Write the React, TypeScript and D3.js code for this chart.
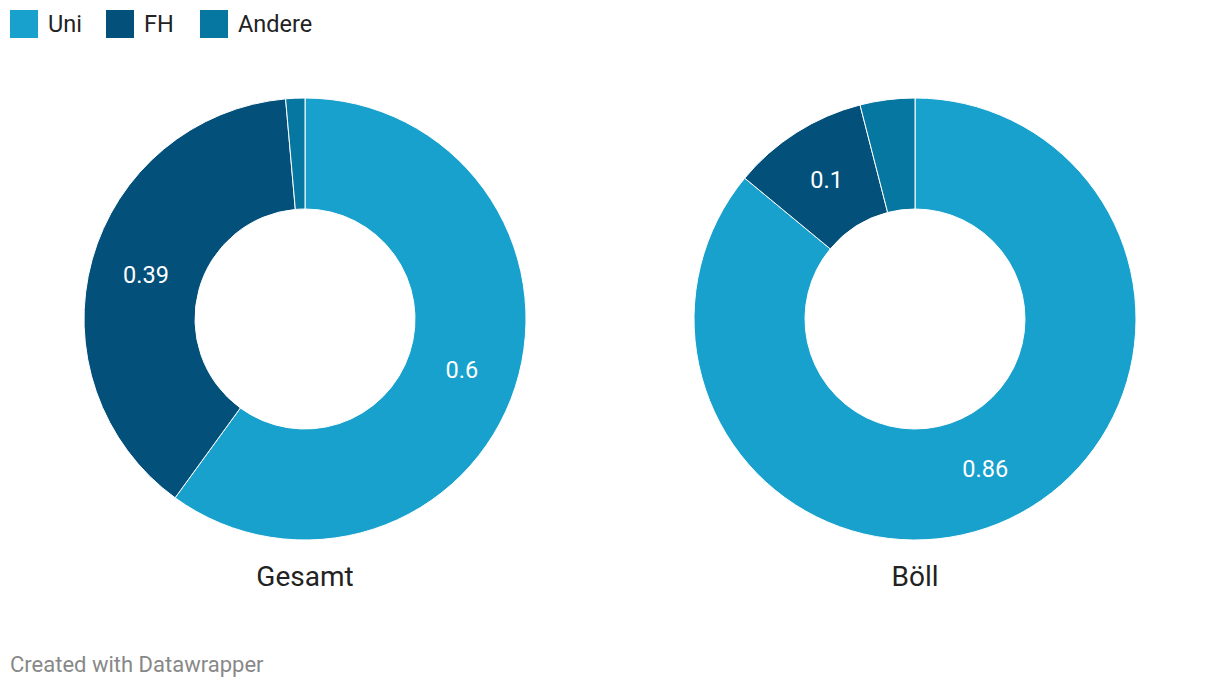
import React from "react";
import * as d3 from "d3";

const categories = ["Uni", "FH", "Andere"];
const colors = ["#18a1cd", "#03507b", "#0677a1"];
const charts = ["Gesamt", "Böll"];
const gesamtValues = [0.6, 0.386, 0.014];
const boellValues = [0.86, 0.1, 0.04];

const W = 1220;
const H = 688;
const outerR = 221;
const innerR = 110;
const centersX = [305, 915];
const centerY = 319;

export default function App() {
  const series = [gesamtValues, boellValues];
  const pie = d3.pie<number>().sort(null).value((d) => d);
  const arc = d3.arc<d3.PieArcDatum<number>>().innerRadius(innerR).outerRadius(outerR);
  const labelArc = d3.arc<d3.PieArcDatum<number>>().innerRadius(innerR + 55).outerRadius(innerR + 55);
  const fmt = d3.format(".2~f");
  const legendX = [10, 106, 200];
  return (
    <svg width={W} height={H} style={{ position: "absolute", left: 0, top: 0, fontFamily: "Roboto, sans-serif" }}>
      <rect width={W} height={H} fill="#fff" />
      {categories.map((c, i) => (
        <g key={c}>
          <rect x={legendX[i]} y={10} width={28} height={28} fill={colors[i]} />
          <text x={legendX[i] + 38} y={32} fontSize={23.5} fill="#222">{c}</text>
        </g>
      ))}
      {series.map((vals, si) => {
        const arcs = pie(vals);
        return (
          <g key={si} transform={`translate(${centersX[si]},${centerY})`}>
            {arcs.map((a, i) => (
              <path key={i} d={arc(a) || ""} fill={colors[i]} stroke="#fff" strokeWidth={1} />
            ))}
            {arcs.map((a, i) => {
              if (a.endAngle - a.startAngle < 0.3) return null;
              const [x, y] = labelArc.centroid(a);
              return (
                <text key={"l" + i} x={x} y={y} dy="0.35em" textAnchor="middle" fontSize={23.5} fill="#fff">
                  {fmt(a.data)}
                </text>
              );
            })}
            <text x={0} y={267} textAnchor="middle" fontSize={28} fill="#222">{charts[si]}</text>
          </g>
        );
      })}
      <text x={10} y={672} fontSize={22} fill="#888">Created with Datawrapper</text>
    </svg>
  );
}
